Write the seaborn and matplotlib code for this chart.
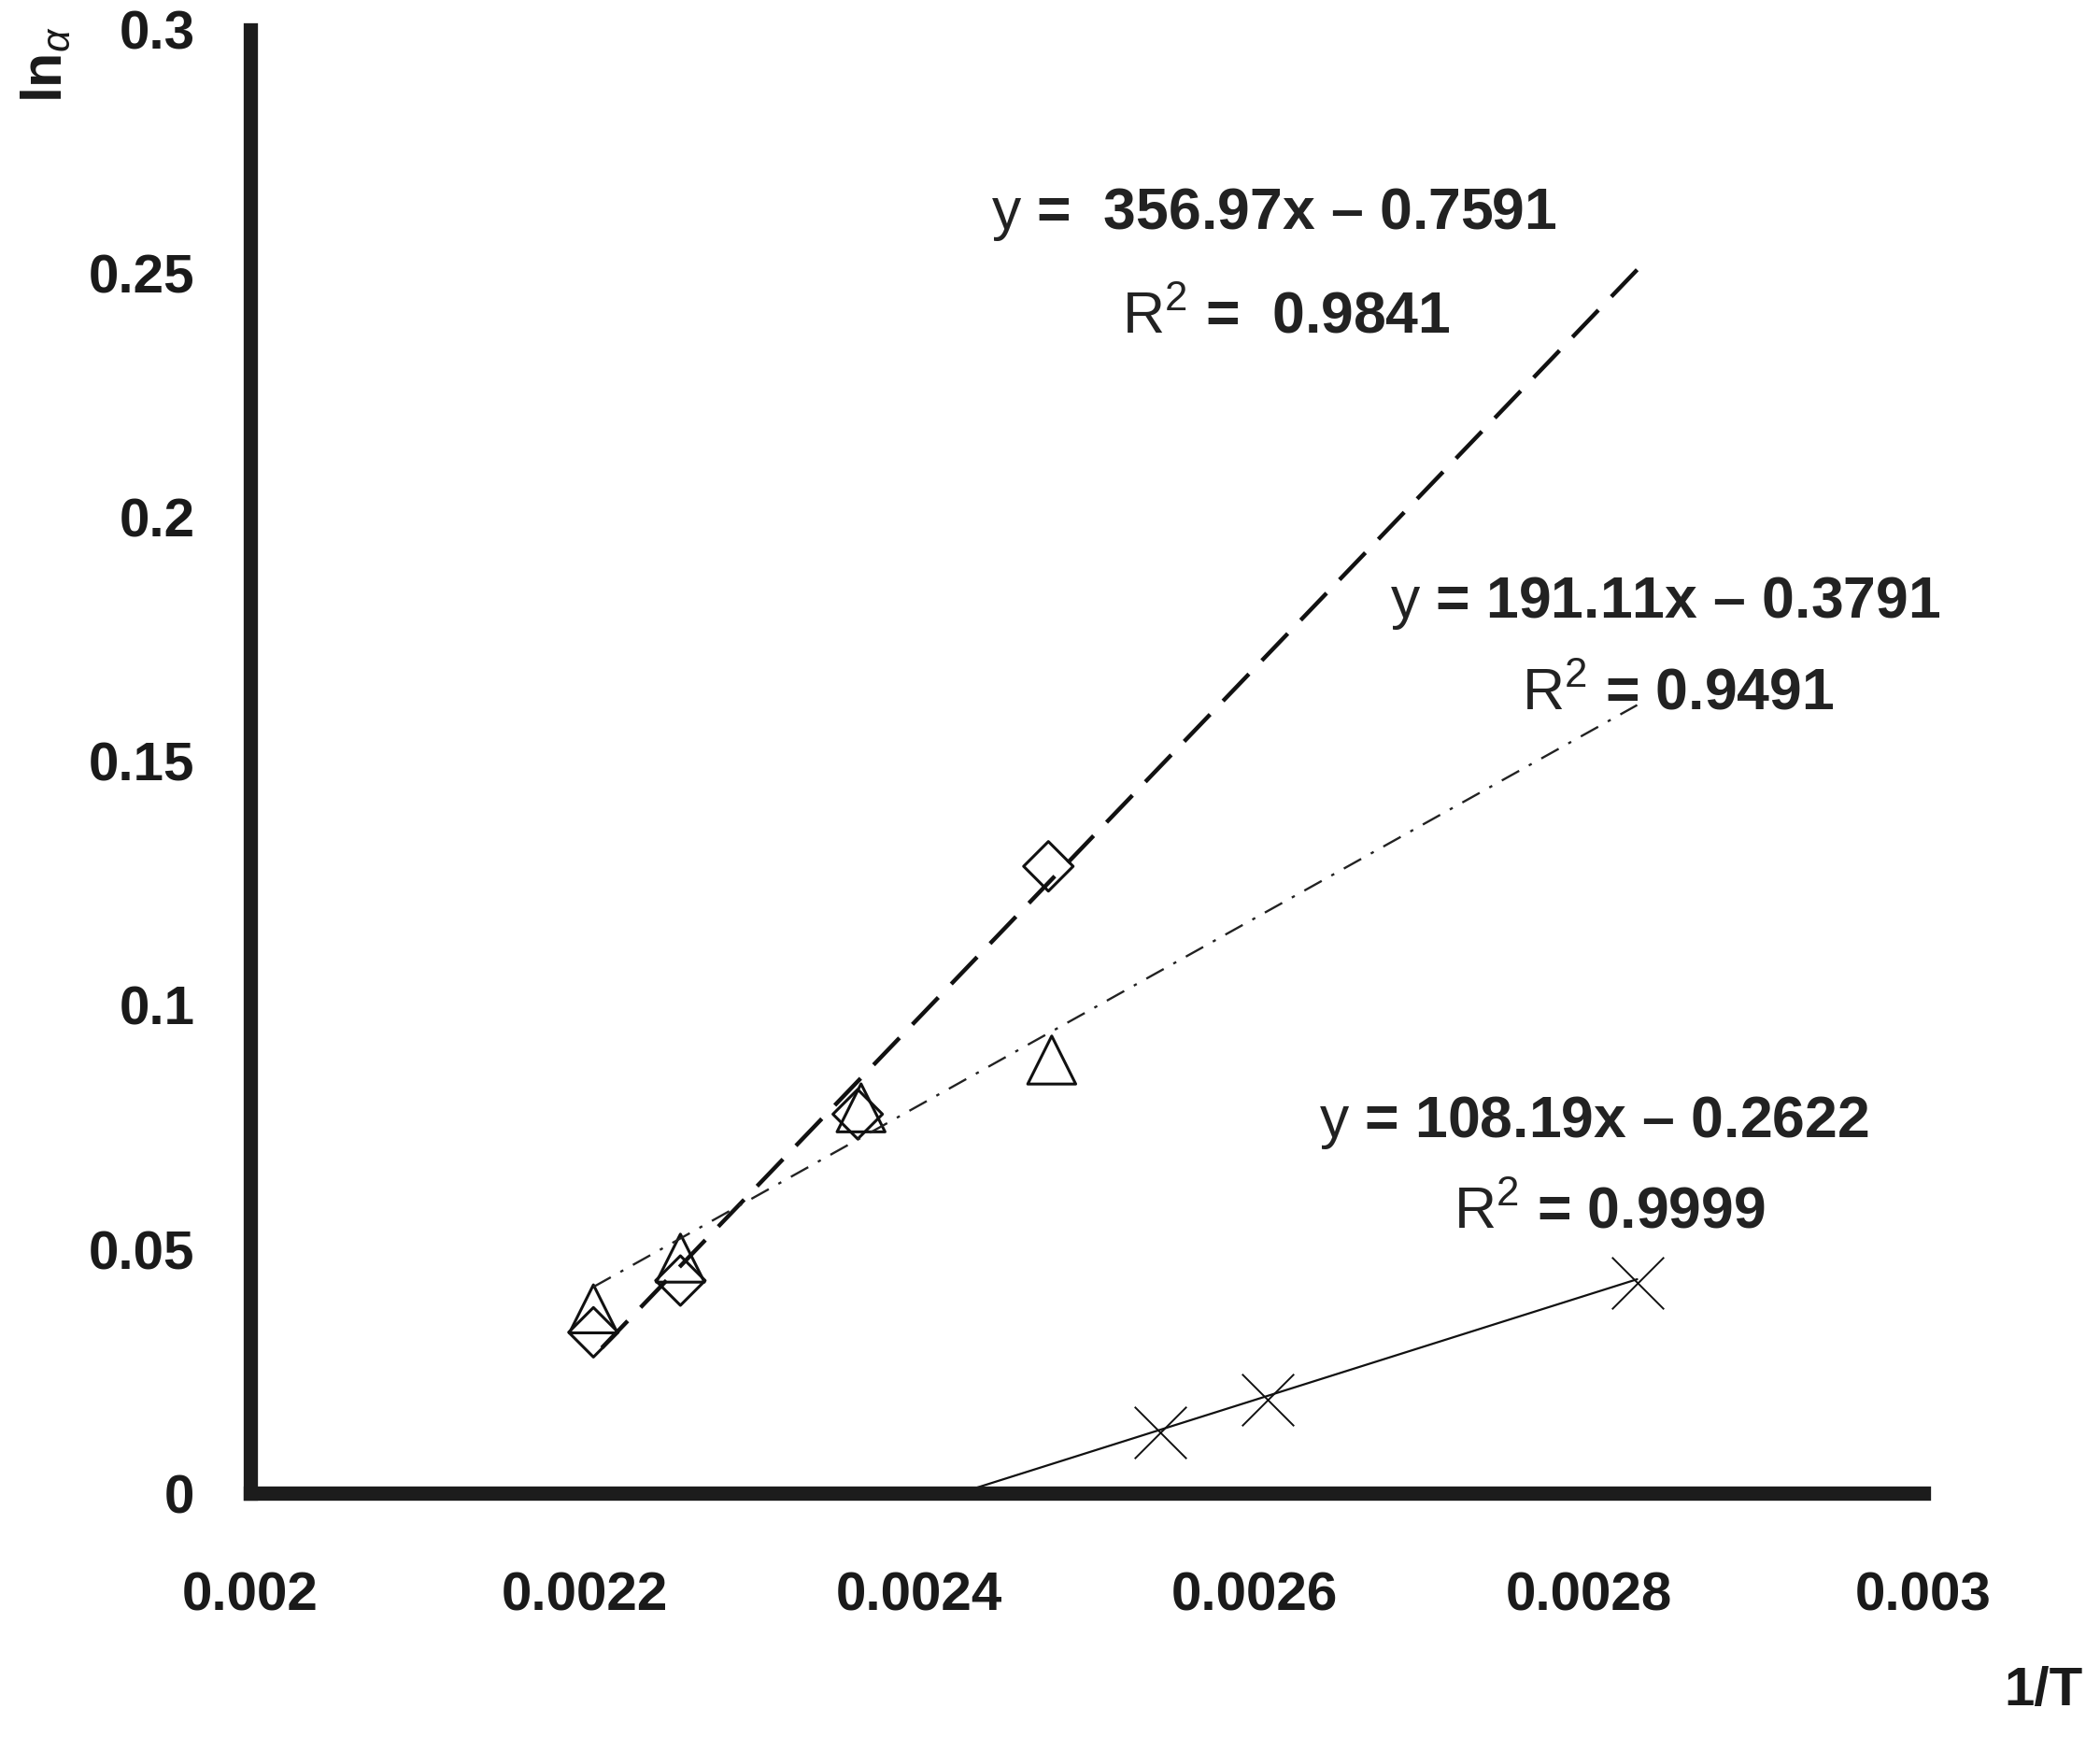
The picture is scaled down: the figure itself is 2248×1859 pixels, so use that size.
import matplotlib
matplotlib.use("Agg")
import matplotlib.pyplot as plt
import seaborn as sns
import numpy as np

# measured points (1/T, ln alpha)
x_diamond = [0.002205, 0.002257, 0.002363, 0.002477]
y_diamond = [0.0330, 0.0436, 0.0777, 0.1285]

x_triangle = [0.002205, 0.002257, 0.002365, 0.002479]
y_triangle = [0.0378, 0.0482, 0.0790, 0.0888]

x_cross = [0.002544, 0.002608, 0.002829]
y_cross = [0.0125, 0.0192, 0.0432]

# linear fits as printed on the chart
fit_slopes = [356.97, 191.11, 108.19]
fit_intercepts = [-0.7591, -0.3791, -0.2622]
fit_r2 = ["0.9841", "0.9491", "0.9999"]
fit_x_start = [0.00221, 0.002205, 0.00242]
fit_x_end = [0.002829, 0.002829, 0.002829]

x_ticks = [0.002, 0.0022, 0.0024, 0.0026, 0.0028, 0.003]
x_tick_labels = ["0.002", "0.0022", "0.0024", "0.0026", "0.0028", "0.003"]
y_ticks = [0, 0.05, 0.1, 0.15, 0.2, 0.25, 0.3]
y_tick_labels = ["0", "0.05", "0.1", "0.15", "0.2", "0.25", "0.3"]

sns.set_theme(style="white")
plt.rcParams['font.family'] = ['Liberation Sans', 'DejaVu Sans']
plt.rcParams['mathtext.fontset'] = 'custom'
plt.rcParams['mathtext.rm'] = 'Liberation Sans'
plt.rcParams['mathtext.it'] = 'Liberation Sans:italic'
plt.rcParams['mathtext.bf'] = 'Liberation Sans:bold'

fig = plt.figure(figsize=(22.48, 18.59), dpi=100)
ax = fig.add_axes([0.1193, 0.1403, 0.7965, 0.8427])

line_styles = [(0, (9, 4.5)), (0, (9, 5, 1.5, 5)), '-']
line_widths = [3.2, 1.7, 1.6]
line_colors = ['#111111', '#222222', '#111111']
for m, b, x0, x1, ls, lw, c in zip(fit_slopes, fit_intercepts, fit_x_start,
                                    fit_x_end, line_styles, line_widths, line_colors):
    xs = np.array([x0, x1])
    sns.lineplot(x=xs, y=m * xs + b, ax=ax, color=c, linestyle=ls, linewidth=lw)

sns.scatterplot(x=x_diamond, y=y_diamond, marker='D', s=27 ** 2, linewidth=2.2, ax=ax)
ax.collections[-1].set_facecolor('none')
ax.collections[-1].set_edgecolor('#111111')

sns.scatterplot(x=x_triangle, y=y_triangle, marker='^', s=37 ** 2, linewidth=2.2, ax=ax)
ax.collections[-1].set_facecolor('none')
ax.collections[-1].set_edgecolor('#111111')

sns.scatterplot(x=x_cross, y=y_cross, marker='x', s=40 ** 2, linewidth=1.4,
                color='#111111', ax=ax)

ax.set_xlim(0.002, 0.003)
ax.set_ylim(0, 0.3)
ax.set_xticks(x_ticks)
ax.set_xticklabels(x_tick_labels)
ax.set_yticks(y_ticks)
ax.set_yticklabels(y_tick_labels)
ax.set_xlabel('')
ax.set_ylabel('')

for side in ['top', 'right']:
    ax.spines[side].set_visible(False)
for side in ['left', 'bottom']:
    ax.spines[side].set_linewidth(11)
    ax.spines[side].set_color('#1c1c1c')
    ax.spines[side].set_capstyle('projecting')

ax.tick_params(axis='both', direction='out', length=19, width=2.5, color='#444444',
               labelsize=42, labelcolor='#1a1a1a')
ax.tick_params(axis='y', pad=24)
ax.tick_params(axis='x', pad=41)
for lab in ax.get_xticklabels() + ax.get_yticklabels():
    lab.set_fontweight('bold')

# equation labels
eq_pos = [(0.002443, 0.2621), (0.002681, 0.1825), (0.002639, 0.0760)]
r2_pos = [(0.002521, 0.2410), (0.002760, 0.1639), (0.002719, 0.0576)]
eq_gap = ["  ", " ", " "]
for m, b, r2, (ex, ey), (rx, ry), g in zip(fit_slopes, fit_intercepts, fit_r2,
                                            eq_pos, r2_pos, eq_gap):
    ax.text(ex, ey, r"$\mathrm{y}$ =" + g + f"{m:.2f}x – {abs(b):.4f}",
            fontsize=45, fontweight='bold', color='#222222', ha='left', va='center')
    ax.text(rx, ry, r"$\mathrm{R}^{\mathrm{2}}$ =" + g + r2,
            fontsize=45, fontweight='bold', color='#222222', ha='left', va='center')

fig.text(0.0222, 0.9630, r"ln$_{\alpha}$", rotation=90, fontsize=44, fontweight='bold',
         ha='center', va='center', color='#1a1a1a')
fig.text(0.9733, 0.0264, "1/T", fontsize=42, fontweight='bold', ha='center', va='center',
         color='#1a1a1a')

fig.savefig('out.png', dpi=100)
